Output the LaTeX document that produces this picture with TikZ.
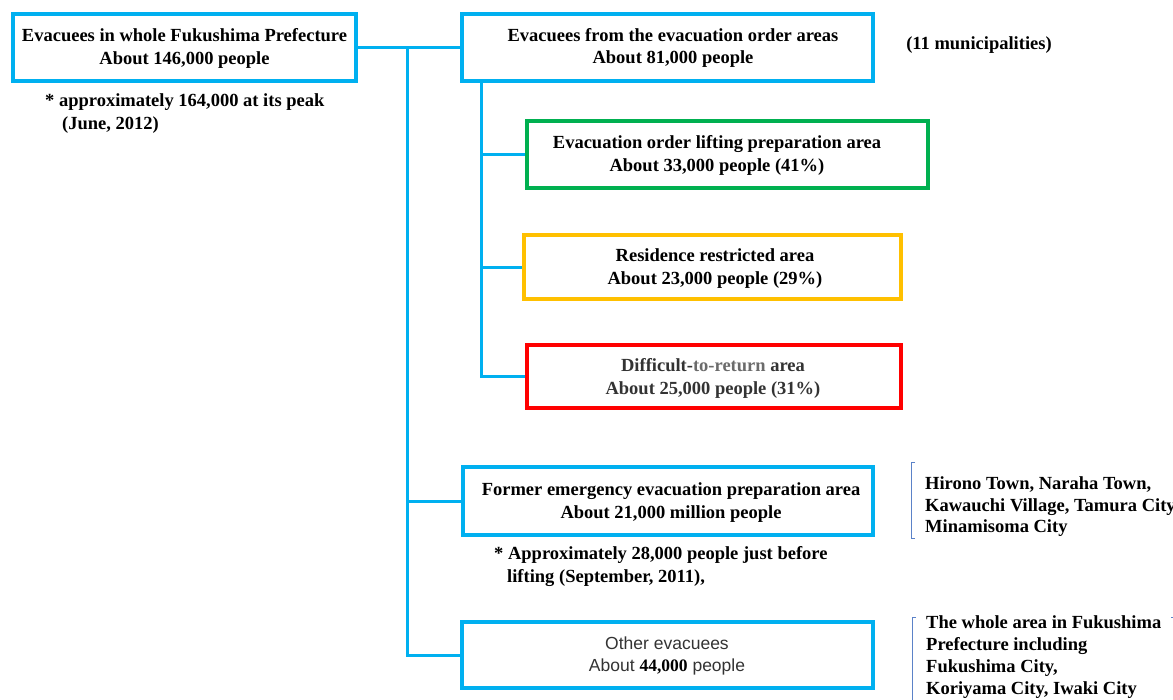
\documentclass[tikz,border=0pt]{standalone}
\usepackage{fontspec}
\setmainfont{Liberation Serif}
\newfontfamily\arialfont{Liberation Sans}
\definecolor{skyblue}{HTML}{00B0F0}
\definecolor{okgreen}{HTML}{00B050}
\definecolor{amber}{HTML}{FFC000}
\definecolor{brightred}{HTML}{FF0000}
\definecolor{bracketblue}{HTML}{5B82C8}
\definecolor{darkgray}{HTML}{333333}
\definecolor{midgray}{HTML}{6B6B6B}
\tikzset{
  framebox/.style={draw=#1, line width=4pt, rectangle, inner sep=0pt},
  txt/.style={font=\bfseries\fontsize{18.5}{22.5}\selectfont, align=center, inner sep=0pt},
  notetxt/.style={font=\bfseries\fontsize{18.5}{23}\selectfont, align=left, inner sep=0pt, anchor=west},
  link/.style={draw=skyblue, line width=3pt},
  bracket/.style={draw=bracketblue, line width=0.8pt},
}
\begin{document}
\begin{tikzpicture}[x=1pt,y=-1pt]
\useasboundingbox (0,0) rectangle (1173,699);
\clip (0,0) rectangle (1173,699);

% boxes
\node[framebox=skyblue, minimum width=343pt, minimum height=67pt] (whole) at (184.5,47.5) {};
\node[framebox=skyblue, minimum width=411pt, minimum height=67pt] (order) at (667.5,47.5) {};
\node[framebox=okgreen, minimum width=401pt, minimum height=67pt] (lifting) at (727.5,154.5) {};
\node[framebox=amber, minimum width=377pt, minimum height=64pt] (restricted) at (712.5,267) {};
\node[framebox=brightred, minimum width=374pt, minimum height=63pt] (difficult) at (714,376.5) {};
\node[framebox=skyblue, minimum width=410pt, minimum height=68pt] (former) at (668,501) {};
\node[framebox=skyblue, minimum width=411pt, minimum height=66pt] (other) at (667.5,655) {};

% box texts
\node[txt] (wholetxt) at (184.5,48.5) {Evacuees in whole Fukushima Prefecture\\About 146,000 people};
\node[txt] (ordertxt) at (673,48) {Evacuees from the evacuation order areas\\About 81,000 people};
\node[txt] (liftingtxt) at (717,155.5) {Evacuation order lifting preparation area\\About 33,000 people (41\%)};
\node[txt] (restrictedtxt) at (715,268.5) {Residence restricted area\\About 23,000 people (29\%)};
\node[txt, text=darkgray] (difficulttxt) at (713,378.5) {Difficult-{\color{midgray}to-return} area\\About 25,000 people (31\%)};
\node[txt] (formertxt) at (671,502.5) {Former emergency evacuation preparation area\\About 21,000 million people};
\node[txt, font=\arialfont\fontsize{17.5}{21.5}\selectfont, text=darkgray] (othertxt) at (667,656)
  {Other evacuees\\About {\rmfamily\bfseries\color{black}44,000} people};

% side notes
\node[txt, anchor=center] (munis) at (979,45) {(11 municipalities)};
\node[notetxt] (peaknote) at (45,113.5) {* approximately 164,000 at its peak\\\hspace*{17pt}(June, 2012)};
\node[notetxt] (liftnote) at (494,566.5) {* Approximately 28,000 people just before\\\hspace*{13pt}lifting (September, 2011),};
\node[notetxt, font=\bfseries\fontsize{18.5}{21.5}\selectfont] (areasone) at (925,507)
  {Hirono Town, Naraha Town,\\Kawauchi Village, Tamura City\\Minamisoma City};
\node[notetxt, font=\bfseries\fontsize{18.5}{22}\selectfont] (areastwo) at (926,657.5)
  {The whole area in Fukushima\\Prefecture including\\Fukushima City,\\Koriyama City, Iwaki City};

% brackets
\coordinate (brA1) at (911,462);
\coordinate (brA2) at (911,538);
\draw[bracket] ([xshift=4pt]brA1) -- (brA1) -- (brA2) -- ([xshift=4pt]brA2);
\coordinate (brB1) at (912,617);
\coordinate (brB2) at (912,712);
\draw[bracket] ([xshift=4pt]brB1) -- (brB1) -- (brB2);
\coordinate (brC1) at (1175,617);
\draw[bracket] ([xshift=-4pt]brC1) -- (brC1) -- ++(0,90);

% connectors
\coordinate (trunk) at (407,48);
\coordinate (subtrunk) at (481,83);
\draw[link] (whole.east) -- (order.west);
\draw[link] (trunk) |- (former.west);
\draw[link] (trunk) |- (other.west);
\draw[link] (subtrunk) |- (lifting.west);
\draw[link] (subtrunk) |- (restricted.west);
\draw[link] (subtrunk) |- (difficult.west);
\end{tikzpicture}
\end{document}
